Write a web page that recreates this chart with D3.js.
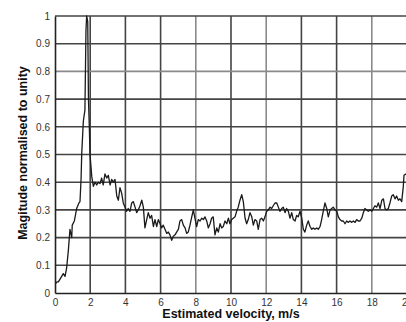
<!DOCTYPE html>
<html>
<head>
<meta charset="utf-8">
<script src="https://cdn.jsdelivr.net/npm/d3@7"></script>
<style>
  html, body { margin: 0; padding: 0; background: #fff; }
  svg { display: block; }
  .tick text { font-family: "Liberation Sans", Arial, sans-serif; font-size: 10px; fill: #333; }
  .axis-title { font-family: "Liberation Sans", Arial, sans-serif; font-size: 12.5px; font-weight: bold; fill: #111; }
</style>
</head>
<body>
<svg id="chart" width="406" height="322"></svg>
<script>
// Estimated velocity (m/s)
const velocity = [
  0.05, 0.11, 0.19, 0.38, 0.47, 0.57, 0.66, 0.76, 0.85, 0.95, 0.98, 1.10, 1.23, 1.36, 1.42, 1.48,
  1.52, 1.61, 1.70, 1.76, 1.80, 1.86, 1.90, 1.95, 1.99, 2.09, 2.18, 2.27, 2.37, 2.46, 2.56, 2.65,
  2.74, 2.84, 2.94, 3.03, 3.13, 3.22, 3.31, 3.41, 3.51, 3.60, 3.69, 3.79, 3.88, 3.98, 4.07, 4.16,
  4.26, 4.36, 4.45, 4.55, 4.64, 4.73, 4.83, 4.93, 5.02, 5.11, 5.21, 5.30, 5.40, 5.49, 5.59, 5.68,
  5.78, 5.87, 5.97, 6.06, 6.15, 6.25, 6.35, 6.44, 6.53, 6.63, 6.72, 6.82, 6.91, 7.01, 7.10, 7.20,
  7.29, 7.39, 7.48, 7.57, 7.67, 7.77, 7.86, 7.95, 8.05, 8.14, 8.24, 8.34, 8.43, 8.52, 8.62, 8.71,
  8.81, 8.90, 8.99, 9.09, 9.19, 9.28, 9.38, 9.47, 9.56, 9.66, 9.76, 9.85, 9.94, 10.04, 10.13, 10.23,
  10.32, 10.41, 10.51, 10.61, 10.70, 10.80, 10.89, 10.98, 11.08, 11.18, 11.27, 11.36, 11.46, 11.55, 11.65, 11.74,
  11.84, 11.93, 12.03, 12.12, 12.22, 12.31, 12.40, 12.50, 12.60, 12.69, 12.78, 12.88, 12.97, 13.07, 13.16, 13.26,
  13.35, 13.45, 13.54, 13.64, 13.73, 13.82, 13.92, 14.02, 14.11, 14.20, 14.30, 14.39, 14.49, 14.59, 14.68, 14.77,
  14.87, 14.96, 15.06, 15.15, 15.24, 15.34, 15.44, 15.53, 15.63, 15.72, 15.81, 15.91, 16.01, 16.10, 16.19, 16.29,
  16.38, 16.48, 16.57, 16.67, 16.76, 16.86, 16.95, 17.05, 17.14, 17.23, 17.33, 17.43, 17.52, 17.61, 17.71, 17.80,
  17.90, 18.00, 18.09, 18.18, 18.28, 18.37, 18.47, 18.57, 18.66, 18.75, 18.85, 18.94, 19.03, 19.13, 19.22, 19.32,
  19.41, 19.51, 19.60, 19.70, 19.79, 19.83, 19.94
];

// Magnitude normalised to unity
const magnitude = [
  0.035, 0.04, 0.04, 0.06, 0.07, 0.06, 0.09, 0.155, 0.23, 0.20, 0.245, 0.26, 0.305, 0.325, 0.33, 0.41,
  0.505, 0.62, 0.66, 0.95, 1.0, 0.98, 0.70, 0.60, 0.50, 0.42, 0.385, 0.40, 0.39, 0.40, 0.395, 0.415,
  0.39, 0.43, 0.415, 0.425, 0.39, 0.41, 0.40, 0.41, 0.35, 0.335, 0.38, 0.36, 0.325, 0.31, 0.295, 0.305,
  0.295, 0.325, 0.33, 0.31, 0.29, 0.30, 0.315, 0.335, 0.31, 0.235, 0.265, 0.29, 0.27, 0.28, 0.24, 0.265,
  0.24, 0.265, 0.25, 0.235, 0.245, 0.23, 0.215, 0.22, 0.21, 0.19, 0.205, 0.21, 0.22, 0.23, 0.26, 0.265,
  0.245, 0.235, 0.215, 0.22, 0.245, 0.275, 0.30, 0.27, 0.24, 0.265, 0.26, 0.27, 0.265, 0.275, 0.26, 0.235,
  0.25, 0.27, 0.275, 0.21, 0.235, 0.22, 0.25, 0.235, 0.24, 0.26, 0.25, 0.27, 0.25, 0.265, 0.27, 0.275,
  0.295, 0.31, 0.335, 0.355, 0.33, 0.27, 0.25, 0.265, 0.29, 0.275, 0.245, 0.265, 0.26, 0.23, 0.265, 0.27,
  0.26, 0.275, 0.295, 0.30, 0.31, 0.305, 0.315, 0.325, 0.325, 0.31, 0.295, 0.305, 0.31, 0.29, 0.305, 0.295,
  0.27, 0.29, 0.265, 0.26, 0.28, 0.275, 0.295, 0.27, 0.23, 0.22, 0.245, 0.26, 0.24, 0.23, 0.235, 0.23,
  0.235, 0.23, 0.24, 0.265, 0.295, 0.325, 0.305, 0.275, 0.30, 0.305, 0.31, 0.30, 0.295, 0.275, 0.265, 0.26,
  0.26, 0.25, 0.26, 0.255, 0.26, 0.255, 0.26, 0.255, 0.265, 0.26, 0.26, 0.27, 0.29, 0.305, 0.30, 0.295,
  0.30, 0.295, 0.305, 0.315, 0.31, 0.325, 0.305, 0.335, 0.34, 0.305, 0.30, 0.305, 0.325, 0.35, 0.355, 0.34,
  0.35, 0.335, 0.34, 0.33, 0.385, 0.425, 0.43
];

const xTicks = [0, 2, 4, 6, 8, 10, 12, 14, 16, 18, 20];
const yTicks = [0, 0.1, 0.2, 0.3, 0.4, 0.5, 0.6, 0.7, 0.8, 0.9, 1];
// grid lines that look lighter in the scan
const lightX = [8, 12, 18];
const lightY = [0.8];

const svg = d3.select('#chart');
const plotLeft = 55, plotRight = 407, plotTop = 16, plotBottom = 293;

const x = d3.scaleLinear().domain([0, 20]).range([plotLeft, plotRight]);
const y = d3.scaleLinear().domain([0, 1]).range([plotBottom, plotTop]);

// Grid
const grid = svg.append('g').attr('class', 'grid');
grid.selectAll('line.v')
  .data(xTicks.slice(1))
  .join('line')
  .attr('class', 'v')
  .attr('x1', d => x(d)).attr('x2', d => x(d))
  .attr('y1', plotTop).attr('y2', plotBottom)
  .attr('stroke', d => lightX.includes(d) ? '#8a8a8a' : '#444')
  .attr('stroke-width', 1.6);
grid.selectAll('line.h')
  .data(yTicks.slice(1))
  .join('line')
  .attr('class', 'h')
  .attr('x1', plotLeft).attr('x2', plotRight)
  .attr('y1', d => y(d)).attr('y2', d => y(d))
  .attr('stroke', d => lightY.includes(d) ? '#8a8a8a' : '#444')
  .attr('stroke-width', 1.6);

// Axes
const xAxis = svg.append('g')
  .attr('transform', `translate(0,${plotBottom})`)
  .call(d3.axisBottom(x).tickValues(xTicks).tickSize(0).tickPadding(6).tickFormat(d3.format('d')));
xAxis.select('.domain').attr('stroke', '#222').attr('stroke-width', 1.6);

const yAxis = svg.append('g')
  .attr('transform', `translate(${plotLeft},0)`)
  .call(d3.axisLeft(y).tickValues(yTicks).tickSize(0).tickPadding(5).tickFormat(d => String(d)));
yAxis.select('.domain').attr('stroke', '#222').attr('stroke-width', 1.6);

// Trace
const points = velocity.map((v, i) => [v, magnitude[i]]);
svg.append('path')
  .datum(points)
  .attr('fill', 'none')
  .attr('stroke', '#1a1a1a')
  .attr('stroke-width', 1.3)
  .attr('stroke-linejoin', 'round')
  .attr('d', d3.line().x(d => x(d[0])).y(d => y(d[1])));

// Titles
svg.append('text')
  .attr('class', 'axis-title')
  .attr('x', 231).attr('y', 318)
  .attr('text-anchor', 'middle')
  .text('Estimated velocity, m/s');

svg.append('text')
  .attr('class', 'axis-title')
  .attr('transform', 'translate(27,153) rotate(-90)')
  .attr('text-anchor', 'middle')
  .text('Magitude normalised to unity');
</script>
</body>
</html>
